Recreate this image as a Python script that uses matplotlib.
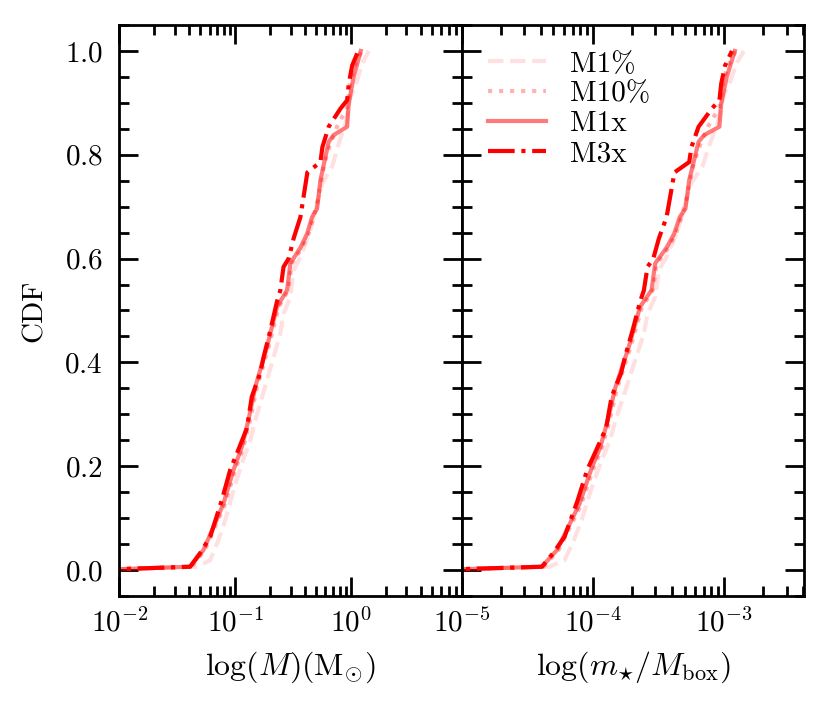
import numpy as np
import matplotlib
matplotlib.use("Agg")
import matplotlib.pyplot as plt

# CDF curves: stellar mass (Msun) vs cumulative fraction
M_BOX = 1.0e3   # box mass in Msun, right panel uses m / M_box

labels = ["M1%", "M10%", "M1x", "M3x"]

m1pc_x = [0.006, 0.0467, 0.0608, 0.0717, 0.082, 0.0967, 0.114, 0.135, 0.149,
          0.188, 0.245, 0.261, 0.299, 0.319, 0.365, 0.445, 0.562, 0.685,
          0.782, 0.893, 0.986, 1.13, 1.245, 1.42]
m1pc_y = [0.0, 0.0064, 0.019, 0.058, 0.096, 0.154, 0.205, 0.250, 0.289,
          0.366, 0.456, 0.494, 0.526, 0.578, 0.603, 0.655, 0.745, 0.777,
          0.822, 0.860, 0.911, 0.944, 0.976, 1.0]

m10pc_x = [0.006, 0.0420, 0.0545, 0.066, 0.081, 0.099, 0.117, 0.134, 0.153,
           0.193, 0.236, 0.287, 0.306, 0.375, 0.43, 0.48, 0.516, 0.58,
           0.633, 0.755, 0.927, 0.98, 1.07, 1.23]
m10pc_y = [0.0, 0.0064, 0.038, 0.080, 0.125, 0.190, 0.235, 0.288, 0.350,
           0.428, 0.505, 0.540, 0.590, 0.620, 0.648, 0.685, 0.713, 0.777,
           0.809, 0.854, 0.892, 0.94, 0.97, 1.0]

m1x_x = [0.006, 0.0408, 0.0532, 0.0649, 0.0792, 0.0967, 0.114, 0.130, 0.149,
         0.188, 0.229, 0.280, 0.299, 0.365, 0.417, 0.460, 0.508, 0.543,
         0.640, 0.707, 0.923, 0.953, 1.05, 1.21]
m1x_y = [0.0, 0.0064, 0.0385, 0.083, 0.128, 0.193, 0.237, 0.289, 0.353,
         0.430, 0.507, 0.539, 0.591, 0.621, 0.648, 0.680, 0.696, 0.751,
         0.825, 0.838, 0.854, 0.899, 0.950, 1.0]

m3x_x = [0.006, 0.0408, 0.0499, 0.0608, 0.0767, 0.0905, 0.1035, 0.126, 0.139,
         0.164, 0.176, 0.201, 0.229, 0.245, 0.261, 0.289, 0.319, 0.365,
         0.419, 0.543, 0.565, 0.640, 0.809, 0.923, 0.953, 1.02, 1.15]
m3x_y = [0.0, 0.0064, 0.033, 0.064, 0.135, 0.193, 0.225, 0.273, 0.334,
         0.379, 0.411, 0.462, 0.517, 0.539, 0.584, 0.600, 0.639, 0.680,
         0.766, 0.786, 0.815, 0.854, 0.889, 0.905, 0.937, 0.972, 1.0]

curves_x = [m1pc_x, m10pc_x, m1x_x, m3x_x]
curves_y = [m1pc_y, m10pc_y, m1x_y, m3x_y]
styles = ["--", ":", "-", "-."]
alphas = [0.12, 0.3, 0.52, 1.0]


plt.rcParams['font.family'] = 'serif'
plt.rcParams['font.serif'] = ['cmr10', 'DejaVu Serif']
plt.rcParams['mathtext.fontset'] = 'cm'
plt.rcParams['axes.formatter.use_mathtext'] = True
plt.rcParams['axes.unicode_minus'] = False
plt.rcParams['font.size'] = 10.5
plt.rcParams['axes.linewidth'] = 1.0
for ax_name in ['xtick', 'ytick']:
  plt.rcParams[ax_name + '.direction'] = 'in'
  plt.rcParams[ax_name + '.major.size'] = 7
  plt.rcParams[ax_name + '.minor.size'] = 3.5
  plt.rcParams[ax_name + '.major.width'] = 1.0
  plt.rcParams[ax_name + '.minor.width'] = 1.0
plt.rcParams['xtick.top'] = True
plt.rcParams['ytick.right'] = True
plt.rcParams['xtick.major.pad'] = 4.5
plt.rcParams['ytick.major.pad'] = 6


fig, (ax1, ax2) = plt.subplots(1, 2, sharey=True, figsize=(829/200., 706/200.), dpi=200)
fig.subplots_adjust(left=0.1439, right=0.9702, bottom=0.1558, top=0.9646, wspace=0)

for xs, ys, ls, a, lab in zip(curves_x, curves_y, styles, alphas, labels):
  xs = np.array(xs)
  ax1.plot(xs, ys, ls, c='red', alpha=a, lw=1.5, label=lab)
  ax2.plot(xs / M_BOX, ys, ls, c='red', alpha=a, lw=1.5, label=lab)

ax1.set_xscale('log')
ax2.set_xscale('log')
ax1.set_xlim(1e-2, 9.0)
ax2.set_xlim(1e-5, 4.1e-3)
ax1.set_ylim(-0.05, 1.05)
ax1.set_yticks([0.0, 0.2, 0.4, 0.6, 0.8, 1.0])
ax1.yaxis.set_minor_locator(matplotlib.ticker.MultipleLocator(0.05))

ax1.set_ylabel('CDF', labelpad=6)
ax1.set_xlabel(r'$\log(M)(\mathrm{M}_{\odot})$', fontsize=11.5)
ax2.set_xlabel(r'$\log(m_{\star}/M_{\mathrm{box}})$', fontsize=11.5)

ax2.legend(loc='upper left', frameon=False, fontsize=10.5, labelspacing=0.12,
           handletextpad=0.8)

for ax in (ax1, ax2):
  ax.tick_params(which='both', top=True, right=True)

plt.savefig('out.png', dpi=200)
